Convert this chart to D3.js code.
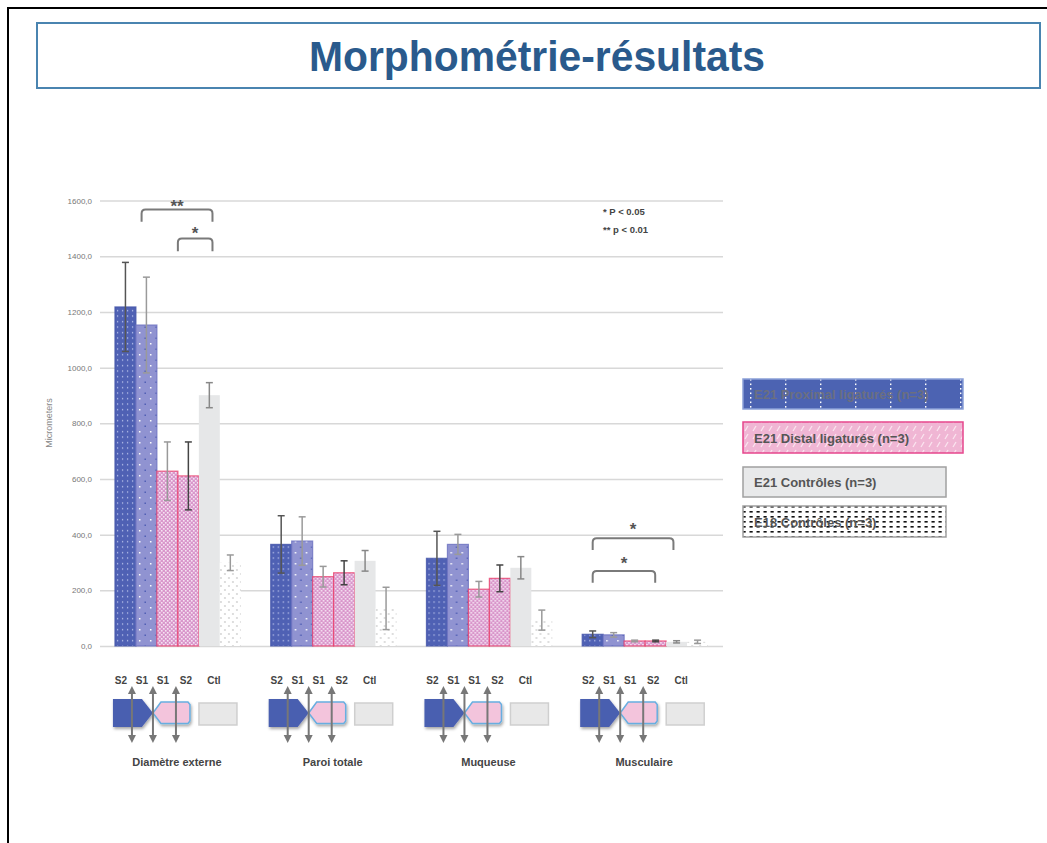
<!DOCTYPE html>
<html><head><meta charset="utf-8">
<script src="https://cdn.jsdelivr.net/npm/d3@7"></script>
<style>body{margin:0;background:#fff}svg{display:block}</style>
</head><body><svg id="c" width="1047" height="843"></svg>
<script>
// ---------- data ----------
const title = "Morphométrie-résultats";
const categories = ["Diamètre externe", "Paroi totale", "Muqueuse", "Musculaire"];
const barKeys = ["S2 prox", "S1 prox", "S1 dist", "S2 dist", "Ctl E21", "Ctl E18"];
const s2Prox = [1218, 365, 315, 42];
const s1Prox = [1153, 377, 365, 40];
const s1Dist = [628, 249, 204, 18];
const s2Dist = [611, 263, 243, 18];
const ctlE21 = [901, 306, 281, 15];
const ctlE18 = [299, 135, 93, 15];
const errS2Prox = [160, 103, 97, 12];
const errS1Prox = [172, 87, 36, 8];
const errS1Dist = [105, 37, 28, 3];
const errS2Dist = [122, 43, 48, 3];
const errCtlE21 = [45, 37, 40, 4];
const errCtlE18 = [28, 76, 36, 6];
const yTicks = [0, 200, 400, 600, 800, 1000, 1200, 1400, 1600];
const seriesNames = ["E21 Proximal ligaturés (n=3)", "E21 Distal ligaturés (n=3)", "E21 Contrôles (n=3)", "E18 Contrôles (n=3)"];
const siteLabels = ["S2", "S1", "S1", "S2", "Ctl"];
const pNotes = ["* P < 0.05", "** p < 0.01"];
// brackets: category index, from/to bar positions (bar units), top value, leg-bottom value, label
const brackets = [
  {cat: 0, from: 1.27, to: 4.65, top: 1568, bottom: 1524, label: "**", labelY: 1590},
  {cat: 0, from: 3.0, to: 4.65, top: 1464, bottom: 1418, label: "*", labelY: 1496},
  {cat: 3, from: 0.5, to: 4.35, top: 387, bottom: 345, label: "*", labelY: 430},
  {cat: 3, from: 0.5, to: 3.48, top: 269, bottom: 227, label: "*", labelY: 308}
];

const values = [s2Prox, s1Prox, s1Dist, s2Dist, ctlE21, ctlE18];
const errors = [errS2Prox, errS1Prox, errS1Dist, errS2Dist, errCtlE21, errCtlE18];

// ---------- setup ----------
const svg = d3.select("#c");
const FONT = "Liberation Sans, Arial, sans-serif";
const defs = svg.append("defs");

function pat(id, w, h, bg, draw) {
  const p = defs.append("pattern").attr("id", id).attr("patternUnits", "userSpaceOnUse")
    .attr("width", w).attr("height", h);
  p.append("rect").attr("width", w).attr("height", h).attr("fill", bg);
  draw(p);
}
pat("pProx2", 5, 5.5, "#4f61b4", p => {
  p.append("rect").attr("x", 2).attr("y", 2).attr("width", 1.2).attr("height", 1.2).attr("fill", "#c9d0f3");
});
pat("pProx1", 11, 11, "#9093d1", p => {
  p.append("rect").attr("x", 2).attr("y", 2).attr("width", 1.5).attr("height", 1.5).attr("fill", "#ffffff");
  p.append("rect").attr("x", 7.5).attr("y", 7.5).attr("width", 1.5).attr("height", 1.5).attr("fill", "#4f5db4");
});
pat("pDist", 4, 4, "#d996cb", p => {
  p.append("rect").attr("x", 0).attr("y", 0).attr("width", 1.6).attr("height", 1.6).attr("fill", "#f6e6f3");
  p.append("rect").attr("x", 2).attr("y", 2).attr("width", 1.6).attr("height", 1.6).attr("fill", "#f6e6f3");
});
pat("pE18", 8, 8, "#ffffff", p => {
  p.append("circle").attr("cx", 2).attr("cy", 2).attr("r", 0.9).attr("fill", "#cfcfcf");
  p.append("circle").attr("cx", 6).attr("cy", 6).attr("r", 0.9).attr("fill", "#cfcfcf");
});
pat("lgProx", 35, 9, "#4c63b2", p => {
  p.append("rect").attr("x", 15).attr("y", 1).attr("width", 1.4).attr("height", 1.6).attr("fill", "#ffffff");
  p.append("rect").attr("x", 15).attr("y", 5.5).attr("width", 1.4).attr("height", 1.6).attr("fill", "#ffffff");
});
pat("lgDist", 8, 8, "#f0b6d4", p => {
  p.append("path").attr("d", "M1,7 L4,2").attr("stroke", "#fbe4ef").attr("stroke-width", 1.3);
});
pat("lgE18", 7, 5, "#ffffff", p => {
  p.append("rect").attr("x", 0.5).attr("y", 1).attr("width", 3.2).attr("height", 1.6).attr("fill", "#111");
});
const blurF = defs.append("filter").attr("id", "shadow").attr("x", "-20%").attr("y", "-20%").attr("width", "150%").attr("height", "150%");
blurF.append("feDropShadow").attr("dx", 1).attr("dy", 2).attr("stdDeviation", 1.5).attr("flood-color", "#000").attr("flood-opacity", 0.35);

const barFill = ["url(#pProx2)", "url(#pProx1)", "url(#pDist)", "url(#pDist)", "#e6e7e8", "url(#pE18)"];
const barStroke = ["#4656aa", "#6d72c0", "#ea3f6c", "#ea3f6c", "none", "none"];
const errColor = ["#555", "#9a9a9a", "#999", "#444", "#888", "#9a9a9a"];

// page frame
svg.append("rect").attr("x", 8).attr("y", 8).attr("width", 1060).attr("height", 860)
  .attr("fill", "none").attr("stroke", "#000").attr("stroke-width", 2);
// title box
svg.append("rect").attr("x", 37).attr("y", 23).attr("width", 1003).attr("height", 65)
  .attr("fill", "#fff").attr("stroke", "#4a84b0").attr("stroke-width", 2);
svg.append("text").attr("x", 537).attr("y", 71).attr("text-anchor", "middle")
  .attr("font-family", FONT).attr("font-weight", "bold").attr("font-size", 43)
  .attr("fill", "#2a5a8c").attr("textLength", 456).attr("lengthAdjust", "spacingAndGlyphs")
  .text(title);

// scales
const x = d3.scaleBand().domain(categories).range([100, 723]).paddingInner(0.192).paddingOuter(0.096);
const xb = d3.scaleBand().domain(barKeys).range([0, x.bandwidth()]).padding(0);
const y = d3.scaleLinear().domain([0, 1600]).range([646, 200.6]);

// grid
const yAxis = d3.axisLeft(y).tickValues(yTicks).tickSize(-(723 - 100))
  .tickFormat(d => d3.format(".1f")(d).replace(".", ","));
const ga = svg.append("g").attr("transform", "translate(100,0)").call(yAxis);
ga.select(".domain").remove();
ga.selectAll(".tick line").attr("stroke", "#d8d8d8").attr("stroke-width", 1.5);
ga.selectAll(".tick text").attr("x", -8).attr("fill", "#777").attr("font-family", FONT).attr("font-size", 8);

// y label
svg.append("text").attr("transform", "translate(52,423) rotate(-90)").attr("text-anchor", "middle")
  .attr("font-family", FONT).attr("font-size", 9).attr("fill", "#888").text("Micrometers");

// bars
categories.forEach((c, ci) => {
  const g = svg.append("g").attr("transform", `translate(${x(c)},0)`);
  barKeys.forEach((k, bi) => {
    const v = values[bi][ci];
    g.append("rect").attr("x", xb(k)).attr("width", xb.bandwidth())
      .attr("y", y(v)).attr("height", y(0) - y(v))
      .attr("fill", barFill[bi]).attr("stroke", barStroke[bi]).attr("stroke-width", 1.2)
      .attr("stroke-opacity", 0.8);
  });
  barKeys.forEach((k, bi) => {
    const v = values[bi][ci], e = errors[bi][ci];
    const cx = xb(k) + xb.bandwidth() / 2;
    const eg = g.append("g").attr("stroke", errColor[bi]).attr("stroke-width", 1.5);
    eg.append("line").attr("x1", cx).attr("x2", cx).attr("y1", y(v + e)).attr("y2", y(Math.max(0, v - e)));
    eg.append("line").attr("x1", cx - 3.5).attr("x2", cx + 3.5).attr("y1", y(v + e)).attr("y2", y(v + e));
    eg.append("line").attr("x1", cx - 3.5).attr("x2", cx + 3.5).attr("y1", y(Math.max(0, v - e))).attr("y2", y(Math.max(0, v - e)));
  });
});

// significance brackets
brackets.forEach(b => {
  const gx = x(categories[b.cat]);
  const x1 = gx + b.from * xb.bandwidth(), x2 = gx + b.to * xb.bandwidth();
  const yt = y(b.top), yb = y(b.bottom), r = 4;
  svg.append("path")
    .attr("d", `M${x1},${yb} L${x1},${yt + r} Q${x1},${yt} ${x1 + r},${yt} L${x2 - r},${yt} Q${x2},${yt} ${x2},${yt + r} L${x2},${yb}`)
    .attr("fill", "none").attr("stroke", "#7a7a7a").attr("stroke-width", 2);
  svg.append("text").attr("x", (x1 + x2) / 2).attr("y", y(b.labelY) + 9).attr("text-anchor", "middle")
    .attr("font-family", FONT).attr("font-weight", "bold").attr("font-size", 17).attr("fill", "#555")
    .text(b.label);
});

// p-value notes
pNotes.forEach((t, i) => {
  svg.append("text").attr("x", 603).attr("y", 215 + i * 17.5).attr("font-family", FONT)
    .attr("font-weight", "bold").attr("font-size", 9.5).attr("fill", "#444").text(t);
});

// legend
const legendFill = ["url(#lgProx)", "url(#lgDist)", "#e8e9ea", "url(#lgE18)"];
const legendStroke = ["#8aa0d8", "#e6468c", "#a0a0a0", "#a0a0a0"];
const legendBox = [{y: 379, w: 220, h: 30}, {y: 422, w: 220, h: 31}, {y: 467, w: 203, h: 30}, {y: 506, w: 203, h: 31}];
seriesNames.forEach((n, i) => {
  const b = legendBox[i];
  svg.append("rect").attr("x", 743).attr("y", b.y).attr("width", b.w).attr("height", b.h)
    .attr("fill", legendFill[i]).attr("stroke", legendStroke[i]).attr("stroke-width", 1.5);
  svg.append("text").attr("x", 754).attr("y", b.y + b.h / 2 + 5).attr("font-family", FONT)
    .attr("font-weight", "bold").attr("font-size", 13).attr("fill", i === 0 ? "#6b6f80" : "#555")
    .text(n);
});

// site diagrams
const labelOffsets = [6, 27, 48, 71, 99];
const arrowOffsets = [17, 38, 61];
categories.forEach((c, ci) => {
  const gx = x(c);
  const g = svg.append("g");
  siteLabels.forEach((s, i) => {
    g.append("text").attr("x", gx + labelOffsets[i]).attr("y", 684).attr("text-anchor", "middle")
      .attr("font-family", FONT).attr("font-weight", "bold").attr("font-size", 10).attr("fill", "#444").text(s);
  });
  g.append("path").attr("d", `M${gx - 2},699 L${gx + 27},699 L${gx + 38},713 L${gx + 27},727 L${gx - 2},727 Z`)
    .attr("fill", "#4a5fb0").attr("filter", "url(#shadow)");
  g.append("path").attr("d", `M${gx + 38},713 L${gx + 46},702 L${gx + 73},702 L${gx + 75},704.5 L${gx + 75},721 L${gx + 73},723.5 L${gx + 46},723.5 Z`)
    .attr("fill", "#f3c4dc").attr("stroke", "#68aee0").attr("stroke-width", 1.5).attr("filter", "url(#shadow)");
  g.append("rect").attr("x", gx + 84).attr("y", 703).attr("width", 38).attr("height", 22)
    .attr("fill", "#e8e8e8").attr("stroke", "#cfcfcf").attr("stroke-width", 1.5);
  arrowOffsets.forEach(o => {
    const ax = gx + o;
    g.append("line").attr("x1", ax).attr("x2", ax).attr("y1", 692).attr("y2", 737)
      .attr("stroke", "#777").attr("stroke-width", 2);
    g.append("path").attr("d", `M${ax},686 L${ax - 4},694 L${ax + 4},694 Z`).attr("fill", "#777");
    g.append("path").attr("d", `M${ax},743 L${ax - 4},735 L${ax + 4},735 Z`).attr("fill", "#777");
  });
  g.append("text").attr("x", gx + 62).attr("y", 766).attr("text-anchor", "middle")
    .attr("font-family", FONT).attr("font-weight", "bold").attr("font-size", 11).attr("fill", "#444").text(c);
});
</script>
</body></html>
